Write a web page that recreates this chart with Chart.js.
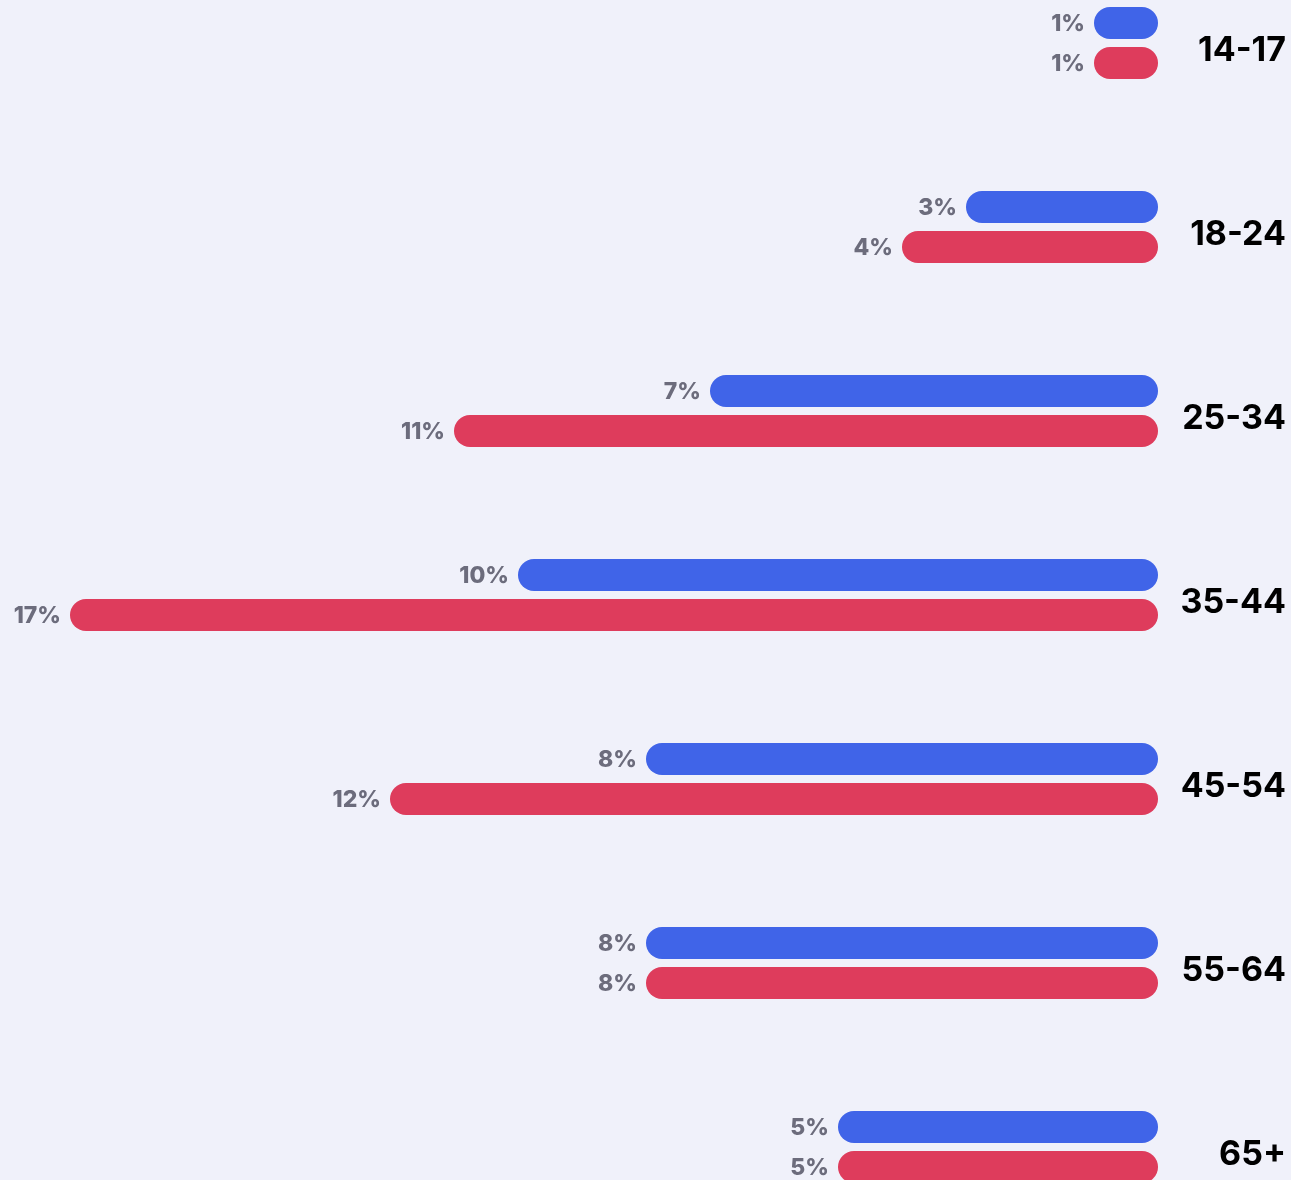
<!DOCTYPE html>
<html>
<head>
<meta charset="utf-8">
<script src="https://cdn.jsdelivr.net/npm/chart.js@4/dist/chart.umd.min.js"></script>
<style>
    html, body { margin: 0; padding: 0; background: #f0f1fa; }
    .wrap { position: relative; width: 1291px; height: 1180px; overflow: hidden; }
</style>
</head>
<body>
<div class="wrap"><canvas id="ageChart"></canvas></div>
<script>
const ageGroups = ['14-17', '18-24', '25-34', '35-44', '45-54', '55-64', '65+'];
const blueValues = [1, 3, 7, 10, 8, 8, 5];
const redValues = [1, 4, 11, 17, 12, 8, 5];

// draws the "x%" text just left of every bar
const valueLabels = {
    id: 'valueLabels',
    afterDatasetsDraw(chart) {
        const ctx = chart.ctx;
        ctx.save();
        ctx.font = '800 23px Inter';
        ctx.fillStyle = '#6c6c7c';
        ctx.textAlign = 'right';
        ctx.textBaseline = 'middle';
        chart.data.datasets.forEach((ds, i) => {
            chart.getDatasetMeta(i).data.forEach((bar, j) => {
                const left = Math.min(bar.x, bar.base);
                ctx.fillText(ds.data[j] + '%', left - 9, bar.y + 1);
            });
        });
        ctx.restore();
    }
};

function initAgeChart() {
    const canvas = document.getElementById('ageChart');
    canvas.width = 1291;
    canvas.height = 1180;

    new Chart(canvas.getContext('2d'), {
        type: 'bar',
        data: {
            labels: ageGroups,
            datasets: [
                {
                    data: blueValues,
                    backgroundColor: '#4064e8',
                    borderRadius: 16,
                    borderSkipped: false,
                    categoryPercentage: 80 / 184,
                    barPercentage: 0.8,
                    clip: false
                },
                {
                    data: redValues,
                    backgroundColor: '#de3c5c',
                    borderRadius: 16,
                    borderSkipped: false,
                    categoryPercentage: 80 / 184,
                    barPercentage: 0.8,
                    clip: false
                }
            ]
        },
        options: {
            indexAxis: 'y',
            responsive: false,
            animation: false,
            layout: { padding: { left: 70, right: 5, top: 43, bottom: 33 } },
            plugins: {
                legend: { display: false },
                tooltip: { enabled: false }
            },
            scales: {
                x: {
                    display: false,
                    reverse: true,
                    min: 0,
                    max: 17
                },
                y: {
                    position: 'right',
                    offset: false,
                    grid: { display: false, drawTicks: false },
                    border: { display: false },
                    afterFit(scale) {
                        scale.width = 128;
                        scale.paddingTop = 0;
                        scale.paddingBottom = 0;
                    },
                    ticks: {
                        crossAlign: 'far',
                        padding: 128 - 106,
                        labelOffset: 8,
                        color: '#000000',
                        font: { family: 'Inter', size: 34, weight: '700' }
                    }
                }
            }
        },
        plugins: [valueLabels]
    });
}

initAgeChart();
</script>
</body>
</html>
